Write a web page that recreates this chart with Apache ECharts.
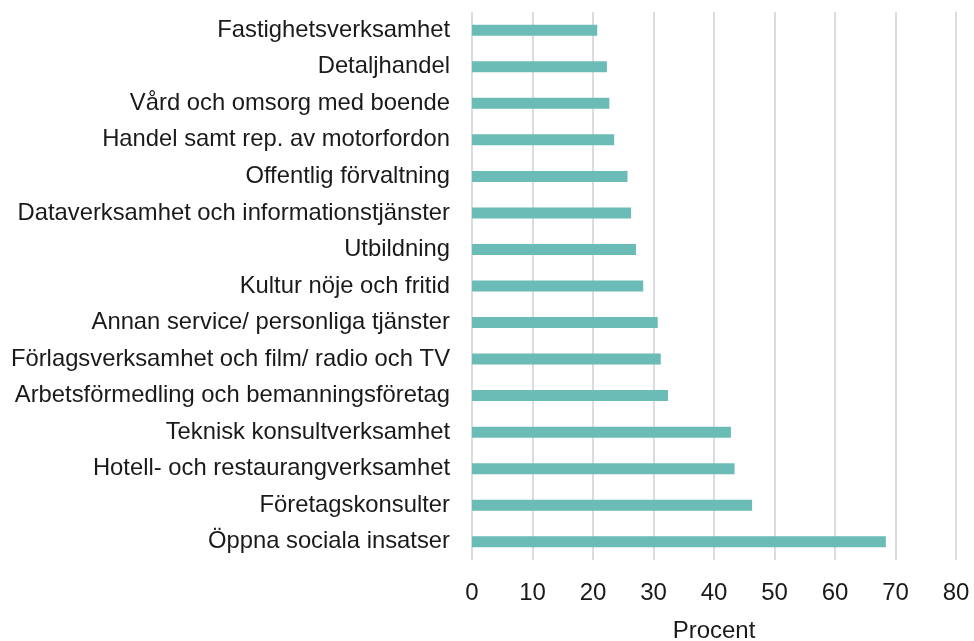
<!DOCTYPE html>
<html>
<head>
<meta charset="utf-8">
<script src="https://cdn.jsdelivr.net/npm/echarts@6/dist/echarts.min.js"></script>
<style>
  html, body { margin: 0; padding: 0; background: #fff; }
  #chart { width: 974px; height: 641px; }
</style>
</head>
<body>
<div id="chart"></div>
<script>
// Industries, listed top to bottom
const categories = [
  "Fastighetsverksamhet",
  "Detaljhandel",
  "Vård och omsorg med boende",
  "Handel samt rep. av motorfordon",
  "Offentlig förvaltning",
  "Dataverksamhet och informationstjänster",
  "Utbildning",
  "Kultur nöje och fritid",
  "Annan service/ personliga tjänster",
  "Förlagsverksamhet och film/ radio och TV",
  "Arbetsförmedling och bemanningsföretag",
  "Teknisk konsultverksamhet",
  "Hotell- och restaurangverksamhet",
  "Företagskonsulter",
  "Öppna sociala insatser"
];

// Share in percent per industry
const values = [20.7, 22.3, 22.7, 23.5, 25.7, 26.3, 27.1, 28.3, 30.7, 31.2, 32.4, 42.8, 43.4, 46.3, 68.4];

const xMin = 0, xMax = 80, xStep = 10;
const xTitle = "Procent";

const FONT = '"Liberation Sans", Arial, sans-serif';

const chart = echarts.init(document.getElementById('chart'), null, { renderer: 'canvas' });
chart.setOption({
  animation: false,
  backgroundColor: '#ffffff',
  grid: { left: 472, right: 18, top: 12, bottom: 81, containLabel: false, outerBoundsMode: 'none' },
  xAxis: {
    type: 'value',
    min: xMin, max: xMax, interval: xStep,
    name: xTitle,
    nameLocation: 'middle',
    nameGap: 59,
    nameTextStyle: { fontFamily: FONT, fontSize: 24, color: '#1a1a1a' },
    axisLine: { show: false },
    axisTick: { show: false },
    axisLabel: { fontFamily: FONT, fontSize: 24, color: '#1a1a1a', margin: 21 },
    splitLine: { show: true, lineStyle: { color: '#dcdcdc', width: 2 } }
  },
  yAxis: {
    type: 'category',
    data: categories,
    inverse: true,
    axisLine: { show: false },
    axisTick: { show: false },
    axisLabel: { fontFamily: FONT, fontSize: 23.8, color: '#1a1a1a', margin: 22 }
  },
  series: [{
    type: 'bar',
    data: values,
    barWidth: 11,
    itemStyle: { color: '#6bbcb6' }
  }]
});
</script>
</body>
</html>
